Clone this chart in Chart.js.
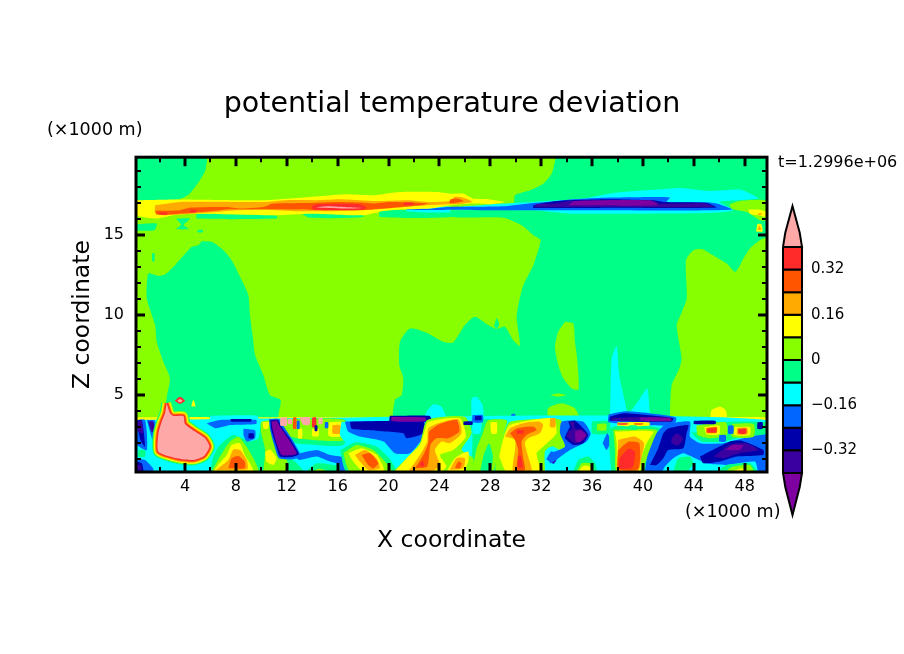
<!DOCTYPE html>
<html>
<head>
<meta charset="utf-8">
<title>potential temperature deviation</title>
<script src="https://cdn.jsdelivr.net/npm/chart.js@4"></script>
<style>
  body { margin: 0; background: #fff; }
  #wrap { position: relative; width: 904px; height: 654px; overflow: hidden; }
  #field { position: absolute; left: 0; top: 0; }
  #bar { position: absolute; left: 770px; top: 195px; }
</style>
</head>
<body>
<div id="wrap">
  <canvas id="field" width="904" height="654"></canvas>
  <canvas id="bar" width="134" height="330"></canvas>
</div>
<script>
// contour bands: lower bound of each band and its colour
var bandFloors = [0.4, 0.32, 0.24, 0.16, 0.08, 0, -0.08, -0.16, -0.24, -0.32, -0.4, -0.48];
var bandColors = ['#ffa8a8', '#ff2a2a', '#ff5500', '#ffaa00', '#ffff00', '#87ff00',
                  '#00ff87', '#00ffff', '#0066ff', '#0000aa', '#3a00a0', '#7f00a0'];

var xTicks = [4, 8, 12, 16, 20, 24, 28, 32, 36, 40, 44, 48];
var xMinor = [2, 6, 10, 14, 18, 22, 26, 30, 34, 38, 42, 46];
var zTicks = [5, 10, 15];
var zMinor = [1, 2, 3, 4, 6, 7, 8, 9, 11, 12, 13, 14, 16, 17, 18, 19];
var barTicks = [0.32, 0.16, 0, -0.16, -0.32];
var barEdges = [0.4, 0.32, 0.24, 0.16, 0.08, 0, -0.08, -0.16, -0.24, -0.32, -0.4];

// each region: band floor, then x,z pairs in units of 1000 m
var upperAir = [
  [0, 0.15,19.83, 49.75,19.83, 49.75,0.2, 0.15,0.2],
  [-0.08, 0.15,19.83, 5.65,19.83, 5.6,19, 5.17,18.4, 4.3,17.5, 3.5,17.2, 0.15,17.2],
  [-0.08, 33.16,19.83, 49.75,19.83, 49.75,3.3, 20.5,3.3, 20.5,4.69, 21.03,5, 21.16,6.04, 20.84,6.87, 20.9,8.32, 21.68,9.15, 23.12,8.84, 24.3,8.32, 25.09,8.28, 26,9.36, 26.79,9.88, 27.84,9.36, 28.49,9.11, 29.15,9.26, 29.8,8.42, 30.33,8.07, 30.07,9.77, 30.2,10.6, 30.59,11.85, 31.38,13.1, 31.95,14.66, 31.38,14.97, 30.46,15.59, 29.02,16.06, 24.83,16.1, 24.83,16.5, 29.8,16.8, 29.94,17.46, 31.12,17.77, 32.16,18.18, 32.82,18.8],
  [-0.08, 5.31,14.59, 6.1,14.55, 7.02,14.03, 7.67,13.41, 8.33,12.37, 8.98,11.23, 9.11,9.98, 9.32,8.74, 9.51,7.49, 10.16,6.24, 10.68,5, 11.52,4.69, 11.34,3.75, 11.34,3.3, 2.56,3.3, 2.56,4.79, 2.82,6.04, 2.3,7.07, 1.78,8.32, 1.65,9.36, 1,11.02, 1.12,12.58, 1.91,12.43, 2.43,12.52, 3.22,13.1, 4.53,14.24, 5.05,14.34],
  [-0.08, 1.42,13.85, 1.6,13.85, 1.6,13.35, 1.42,13.35],
  [-0.08, 28.3,9.3, 28.5,9.8, 28.7,9.4, 28.5,9.1],
  [0, 49.78,14.86, 49.2,14.66, 48.41,14.14, 47.89,13.51, 47.63,13.1, 47.24,12.68, 46.58,13.2, 45.27,13.83, 44.62,14.1, 43.96,14.03, 43.38,13.41, 43.44,11.02, 43.04,10.15, 42.65,9.36, 43.04,7.28, 42.86,6.66, 42.26,5.62, 42.13,3.96, 42.26,3.3, 49.78,3.3],
  [0, 33.87,9.57, 34.52,9.46, 34.65,8.32, 34.83,7.28, 34.95,5.35, 34.4,5.41, 33.73,6.04, 33.34,6.87, 33.08,8.01, 33.34,8.94],
  [0, 32.7,5, 33.3,5.1, 34,5, 33.3,4.9],
  [0, 32.5,3.4, 32.55,4.17, 33.6,4.48, 34.65,4.17, 35,3.6, 35,3.4],
  [0, 27.1,13.05, 27.15,13.45, 27.45,13.5, 27.5,13.1],
  [-0.16, 26.53,3.4, 26.53,4.79, 26.92,4.89, 27.39,4.37, 27.45,3.4],
  [-0.16, 22.73,3.4, 22.99,3.96, 23.52,4.42, 24.17,4.27, 24.56,3.4],
  [-0.16, 37.3,3.4, 37.41,3.75, 37.54,7.28, 37.93,8.07, 38.14,6.24, 38.59,4.58, 38.85,3.86, 39.77,4.79, 40.34,5.41, 40.55,3.75, 40.6,3.4],
  [0.08, 45.27,3.5, 45.4,4.06, 46.06,4.27, 46.5,4.06, 46.58,3.5],
  [0.08, 48.9,15.2, 49,15.65, 49.3,15.65, 49.4,15.2],
  [0.16, 49,15.3, 49.15,15.55, 49.3,15.3],
  [0.08, 4.5,4.3, 4.66,4.7, 4.82,4.3]
];

var tropopause = [
  [-0.08, 4.92,16.3, 11.2,16.2, 11.2,16, 4.92,16],
  [-0.08, 13,16.4, 18,16.4, 18,16.1, 13.8,16.05],
  [-0.08, 19.3,16.5, 24.83,16.6, 24.83,16.1, 19.3,16.1],
  [-0.08, 0.15,15.65, 1.78,15.7, 1.6,15.28, 0.15,15.28],
  [-0.08, 3.3,16, 4.4,16, 3.9,15.6, 4.3,15.35, 3.3,15.35, 3.7,15.6],
  [-0.08, 5,15.3, 5.4,15.3, 5.4,15.15, 5,15.15],
  [-0.16, 21.43,16.65, 24.83,16.75, 24.83,16.4, 21.43,16.45],
  [-0.24, 21.43,16.62, 23.26,16.62, 24.83,16.72, 24.83,16.56, 21.43,16.56],
  [-0.16, 24.83,16.69, 29.02,16.94, 31.38,17.04, 35.31,17.25, 37.67,17.6, 41.07,17.81, 42.9,17.91, 45.27,17.73, 47.62,17.81, 48.41,17.56, 49.07,17.25, 47.62,17.14, 46.05,17.04, 47.1,16.52, 45.27,16.35, 34.26,16.31, 31.38,16.52, 24.83,16.56],
  [-0.24, 24.83,16.73, 29,16.77, 31.38,16.98, 32.43,17.04, 34.26,17.19, 37.4,17.31, 41.07,17.35, 42.12,17.31, 41.86,17.04, 44.74,17.04, 45.8,16.94, 46.97,16.56, 34,16.52, 24.83,16.56],
  [-0.32, 31.38,16.83, 32.17,16.98, 34,17.14, 37.4,17.21, 40.81,17.14, 41.6,17.04, 45,16.98, 45.8,16.69, 36.62,16.67, 31.38,16.67],
  [-0.4, 33.08,16.94, 34.26,17.1, 40.81,17.1, 41.33,16.94, 44.87,16.94, 45.5,16.73, 36.62,16.73, 31.5,16.73, 31.6,16.9],
  [-0.48, 34.13,16.83, 34.65,17.1, 40.55,17.14, 41.2,16.83],
  [0, 46.8,16.9, 47.6,17.1, 49.75,17.1, 49.75,15.9, 49.2,15.9, 48.2,16.4, 47,16.6],
  [0.08, 48.3,16.56, 49.2,16.56, 49.75,16.4, 49.75,16.1, 49.07,16.21, 48.4,16.31],
  [0.16, 49.05,16.32, 49.3,16.35, 49.3,16.22, 49.05,16.22],
  [0.08, 0.15,17.15, 3.5,17.2, 10.16,17.15, 13.8,17.35, 16.7,17.52, 18.8,17.46, 20.9,17.66, 23.8,17.66, 24.83,17.56, 25.88,17.56, 26.66,17.25, 27.97,17.2, 29.15,17.04, 27.97,16.9, 26.66,16.94, 24.83,16.83, 23.26,16.63, 20.64,16.56, 19.6,16.48, 18.02,16.21, 13.83,16.31, 11.2,16.21, 4.92,16.31, 3.09,16.21, 1.78,16, 0.73,16.1, 0.15,16.21],
  [0.16, 1.65,16.83, 3.61,17.04, 10.16,17.04, 12,17.15, 14.35,17.15, 16.45,17.2, 19.07,17.1, 21.43,17.15, 23.26,17.04, 24.83,17.1, 25.2,17.35, 25.88,17.3, 26.6,17.05, 25.5,16.9, 24.83,16.9, 23,16.83, 18,16.52, 15.4,16.46, 13,16.46, 10.16,16.56, 8.06,16.52, 5.7,16.36, 2.3,16.21, 1.65,16.42],
  [0.24, 1.65,16.48, 3.61,16.52, 4.4,16.69, 7.3,16.73, 8.33,16.63, 10.16,16.73, 10.95,16.94, 13.83,16.98, 15.92,17.04, 17.76,17, 18.8,16.94, 20.1,17.04, 21.95,17, 23.13,16.94, 22.47,16.83, 18.54,16.56, 15.4,16.52, 13.83,16.56, 10.16,16.58, 7.54,16.58, 5.97,16.46, 3.09,16.28, 1.78,16.25],
  [0.24, 24.83,17.2, 25.4,17.25, 25.9,17.1, 24.83,16.95],
  [0.32, 13.96,16.77, 14.35,16.9, 17.76,16.9, 18.28,16.69, 18,16.56, 14.09,16.56],
  [0.4, 14.22,16.69, 15.14,16.77, 16.45,16.73, 17.9,16.67, 16.45,16.63],
  [0.32, 2,16.38, 2.6,16.38, 2.6,16.26, 2,16.26],
  [0.32, 4.4,16.55, 4.9,16.55, 4.9,16.4, 4.4,16.4],
  [0.32, 21.2,17, 21.9,17, 21.9,16.85, 21.2,16.85]
];

// low level layer, x below 17
var lowWest = [
  [-0.16, 0.15,3.45, 49.75,3.45, 49.75,0.2, 0.15,0.2],
  [-0.08, 5.97,0.22, 6.23,1.16, 6.75,1.88, 7.8,2.5, 9.1,2.1, 9.77,2.3, 10,3.24, 10.95,3.4, 11.2,2, 12.78,0.74, 13.3,0.22],
  [0, 10.16,0.22, 10.3,1.57, 10,2.61, 10,3.34, 11.2,3.34, 11.2,2, 12,1, 12,0.22],
  [0.08, 10.3,1.47, 10.7,1.6, 11.2,1.06, 10.95,0.64, 10.4,0.85],
  [0.08, 10.1,3.3, 10.6,3.3, 10.5,2.9, 10.2,2.9],
  [0, 6.1,0.22, 6.75,1.16, 7.54,2.1, 8.2,2.4, 8.85,1.78, 9.37,1.06, 9.77,0.22],
  [0.08, 6.23,0.22, 6.6,0.64, 7.28,1.26, 7.67,1.88, 8.33,2, 8.7,1.26, 9.1,0.74, 9.37,0.22],
  [0.16, 6.44,0.33, 7.41,0.95, 7.8,1.6, 8.33,1.57, 8.85,0.95, 8.9,0.37],
  [0.24, 7.41,0.43, 7.67,1.06, 8.2,1.2, 8.7,0.85, 8.7,0.43],
  [-0.16, 6,3.7, 9.7,3.7, 9.7,3.3, 6,3.3],
  [-0.24, 5.7,3.24, 6.75,3.44, 9.6,3.44, 9.6,3.2, 7.54,3.13, 6.4,2.93],
  [-0.32, 7.6,3.5, 9.2,3.5, 9.2,3.35, 7.6,3.35],
  [-0.24, 8.6,2.9, 9.5,2.8, 9.5,2.3, 8.85,2.1, 8.6,2.5],
  [-0.32, 9,2.61, 9.4,2.6, 9.4,2.3, 9,2.3],
  [-0.24, 0.15,3.44, 0.86,3.44, 1,1.57, 0.15,1.98],
  [-0.32, 0.2,3.4, 0.6,3.44, 0.86,1.78, 0.5,2.2],
  [-0.4, 0.2,3.34, 0.6,3.34, 0.7,2.61, 0.33,2.72],
  [-0.24, 1,3.44, 1.65,3.4, 1.83,2.1, 1.5,2.1],
  [-0.4, 1.12,3.34, 1.5,3.34, 1.65,2.61, 1.38,2.72],
  [-0.08, 0.33,1.57, 0.86,1.57, 0.86,1.16, 0.33,1.16],
  [-0.24, 0.15,1.06, 0.86,0.95, 1.5,0.43, 1.5,0.2, 0.15,0.2],
  [-0.32, 0.15,0.85, 0.6,0.74, 0.73,0.2, 0.15,0.2],
  [-0.4, 0.15,0.65, 0.55,0.6, 0.55,0.3, 0.15,0.3],
  [-0.08, 11.5,3.45, 16.6,3.45, 16.5,1.9, 14,1.9, 12.3,2.1],
  [0, 11.2,3.45, 16.5,3.45, 16.5,2.2, 14,2.2, 12.3,2.4, 11.5,3],
  [0.08, 12.9,2.9, 13.2,2.9, 13.2,2.3, 12.9,2.3],
  [0.08, 14,2.9, 14.5,2.9, 14.5,2.45, 14,2.45],
  [0.08, 15.3,3.3, 16.4,3.3, 16.4,2.45, 15.3,2.45],
  [0.16, 15.6,3.13, 16.2,3.13, 16.2,2.6, 15.6,2.6],
  [-0.24, 12.5,1.26, 14.35,1.57, 15.4,1.26, 17,1.06, 17,0.64, 15.4,0.85, 14.35,1.16, 13,0.95],
  [-0.08, 13.5,0.22, 14.35,0.74, 16,0.6, 17,0.4, 17,0.22],
  [0, 13.9,0.22, 14.6,0.4, 15.2,0.22],
  [-0.24, 10.6,3.5, 11.4,3.5, 11.8,3, 12.6,2, 13.1,1.2, 12.5,1, 11.4,1.05, 11,1.9, 10.7,2.8],
  [-0.32, 10.7,3.42, 11.3,3.45, 11.6,3, 12.4,2.1, 12.95,1.3, 12.5,1.15, 11.5,1.15, 11.1,2, 10.8,2.8],
  [-0.48, 10.8,3.34, 11.2,3.4, 11.47,3.03, 12.26,2.1, 12.78,1.37, 12.5,1.26, 11.6,1.26, 11.2,2, 10.9,2.82],
  [0.4, 11.5,3.6, 12,3.6, 12,3.1, 11.5,3.1],
  [0.4, 12.1,3.5, 12.4,3.5, 12.4,3.2, 12.1,3.2],
  [0.24, 12.5,3.6, 12.75,3.6, 12.75,2.9, 12.5,2.9],
  [0.4, 13,3.6, 13.8,3.6, 13.8,3.15, 13.3,3.15],
  [-0.24, 12.8,3.4, 13,3.4, 13,2.9, 12.8,2.9],
  [0.32, 14,3.6, 14.3,3.6, 14.3,3, 14,3],
  [-0.32, 14.2,3.1, 14.4,3.1, 14.4,2.75, 14.2,2.75],
  [0.4, 14.5,3.55, 14.8,3.55, 14.8,3.2, 14.5,3.2],
  [-0.24, 15,3.3, 15.25,3.3, 15.25,2.95, 15,2.95]
];

// the warm bubble at the left, drawn with rings round it
var bubble = [2.56,4.48, 2.82,3.86, 3.09,3.69, 3.87,3.69, 4,3.2, 4.79,2.72, 5.58,2.3, 5.92,1.78, 5.5,1.2, 4.66,0.95, 3.35,1.06, 1.91,1.47, 1.91,2.61, 2.17,3.34, 2.43,3.86];
var bubbleRings = [-0.08, 0, 0.08, 0.16, 0.24, 0.32];
var bubbleSpot = [
  [0.32, 3.2,4.65, 3.6,4.9, 4,4.65, 3.6,4.45],
  [0.4, 3.4,4.65, 3.6,4.75, 3.8,4.65, 3.6,4.55]
];

// low level layer, x from 16 to 34
var lowMiddle = [
  [-0.24, 16.18,0.22, 16.18,1.1, 16.97,0.4, 16.97,0.22],
  [-0.16, 16.3,3.34, 23,3.34, 23.25,2.82, 22.2,1.16, 21.29,0.74, 20.1,1.16, 19.6,1.68, 18,2, 16.57,2.1, 16.18,2.5],
  [-0.24, 16.57,3.34, 22.73,3.34, 23.12,2.92, 22.6,2.2, 21.68,1.37, 20.5,1.37, 19.6,2.1, 17.75,2.41, 16.83,2.72],
  [-0.32, 16.97,3.34, 22.73,3.34, 22.73,2.61, 21.42,2.3, 21.16,2.61, 18.28,2.82, 17.1,2.92],
  [-0.32, 20.1,3.7, 23.2,3.7, 23.4,3.34, 20.1,3.34],
  [-0.48, 20.24,3.63, 22.9,3.6, 22.9,3.37, 20.24,3.37],
  [-0.08, 16.2,1.55, 17.4,2.05, 19,1.8, 20,1.1, 20.6,0.22, 16.7,0.22],
  [0, 16.44,1.37, 17.49,1.88, 18.8,1.57, 19.85,0.74, 20.24,0.22, 16.97,0.22],
  [0.08, 16.84,1.37, 17.88,1.68, 19.06,1.26, 19.59,0.54, 19.59,0.22, 18,0.22, 17.23,0.85],
  [0.16, 17.36,1.26, 18.15,1.57, 19.06,1.06, 19.32,0.43, 18.4,0.33, 17.75,0.85],
  [0.24, 17.88,1.26, 18.54,1.37, 19.19,0.74, 18.8,0.43, 18.4,0.64],
  [-0.08, 26.5,0.22, 26.6,2.6, 26.4,3.4, 29.3,3.4, 28.9,2.4, 28.4,0.22],
  [-0.16, 26.55,3.4, 27.3,3.4, 27.2,2.6, 26.65,2.6],
  [0, 26.6,0.22, 26.9,1.6, 27.4,2.6, 27.8,3.4, 29.3,3.4, 28.7,2, 28.2,0.22],
  [-0.08, 27.2,0.22, 27.5,1.3, 27.9,2, 28.2,1.2, 28,0.22],
  [0.08, 28,3.3, 28.5,3.3, 28.5,2.6, 28.1,2.6],
  [0, 20.37,0.22, 21.42,1.06, 22.47,2, 23.04,3.44, 26,3.65, 26.53,2.61, 25.74,1.57, 26.66,1.06, 26.53,0.22],
  [0.08, 20.5,0.22, 21.55,1.16, 22.47,1.9, 22.86,2.82, 23.12,3.34, 25.6,3.55, 26.08,2.41, 25.09,1.57, 24.04,1.26, 24.56,0.54, 24.04,0.22],
  [0.16, 21.55,0.22, 22.47,1.26, 23.04,2.1, 23.12,2.92, 23.91,3.24, 25.48,3.49, 25.74,2.61, 24.83,1.99, 24.17,2.1, 23.65,1.57, 24.04,0.64, 23.52,0.29],
  [0.24, 22.08,0.43, 22.73,1.26, 23.12,2, 23.2,2.72, 24.04,3.2, 25.35,3.44, 25.56,2.72, 24.7,2.3, 23.78,2.3, 23.3,1.9, 23.04,0.54],
  [0.32, 22.4,0.6, 22.7,0.9, 22.8,0.55],
  [0.08, 24.56,0.22, 25.22,1.06, 26.27,1.47, 26.27,0.85, 25.87,0.22],
  [0.16, 24.83,0.33, 25.35,1.06, 26,1.06, 25.87,0.43],
  [0.24, 25.22,0.43, 25.48,0.85, 25.74,0.74, 25.6,0.43],
  [-0.32, 25.9,3.35, 26.6,3.35, 26.6,3.15, 25.9,3.15],
  [-0.24, 26.6,3.75, 27.4,3.75, 27.4,3.3, 26.6,3.3],
  [-0.32, 26.8,3.68, 27.3,3.68, 27.3,3.45, 26.8,3.45],
  [0, 28.4,0.22, 28.5,1.78, 29.15,2.82, 29.54,3.34, 32.95,3.55, 33.6,3.4, 33.6,2.6, 34,1.8, 32.5,1.3, 32.8,0.22],
  [0.08, 28.7,1.16, 29,2.2, 29.54,3.13, 32.95,3.55, 33.2,2.61, 32.16,1.78, 31.64,1.37, 31.9,0.22, 29.28,0.22],
  [0.16, 29.15,2.41, 29.54,2.92, 30.59,3.24, 31.9,3.34, 32.16,3.13, 31.9,2.61, 30.98,2.3, 30.72,2, 30.98,1.16, 31.25,0.22, 29.8,0.22, 29.94,1.57, 29.94,2.2],
  [0.24, 29.54,2.61, 30.07,2.92, 31.37,3.03, 31.64,2.82, 30.85,2.51, 30.46,2.1, 30.59,1.06, 30.72,0.33, 30.07,0.33, 30.2,1.57, 29.94,2.2],
  [0.32, 30.2,1.2, 30.4,1.2, 30.55,0.5, 30.2,0.5],
  [0.32, 30.1,2.8, 30.6,2.8, 30.6,2.6, 30.1,2.6],
  [0.16, 32.7,3.55, 33.1,3.55, 33.1,3, 32.7,3],
  [-0.16, 32.3,0.2, 32.3,1.5, 32.9,1.8, 33.6,1.4, 34,0.2],
  [-0.24, 32.4,1, 32.8,1.5, 33.3,1.2, 33,0.7],
  [-0.4, 32.7,0.9, 32.95,1.25, 33.2,1, 32.95,0.75]
];

// low level layer, x above 33
var lowEast = [
  [-0.24, 32.69,1.37, 33.87,1.78, 33.48,2.61, 33.61,3.34, 35.31,3.34, 35.89,2.61, 35.57,2.1, 34.26,1.57, 33.35,1.06, 32.69,0.74],
  [-0.32, 34.13,3.34, 34.66,3.4, 35.44,2.82, 35.7,2.51, 35.31,2, 34.52,1.89, 33.87,2.3, 34,2.61, 34.26,3.03],
  [-0.4, 34.21,3.32, 34.58,3.32, 34.66,2.92, 35.18,2.86, 35.62,2.51, 35.18,2.1, 34.66,2, 34,2.41, 34.13,2.72, 34.47,2.92],
  [-0.48, 34.66,2.72, 35.05,2.82, 35.52,2.51, 35.1,2.1, 34.73,2.1],
  [-0.08, 36,3.35, 37.4,3.35, 37.3,2.6, 36,2.6],
  [0, 36.4,3.2, 37.1,3.2, 37.1,2.8, 36.4,2.8],
  [-0.24, 36.83,1.99, 37.2,2.61, 37.46,2.1, 37.14,1.57],
  [-0.08, 34.52,0.22, 34.92,0.95, 35.7,1.16, 36.23,0.74, 36.36,0.22],
  [0, 34.79,0.22, 35.18,0.74, 35.83,0.74, 36.1,0.22],
  [0.08, 34.92,0.22, 35.31,0.58, 35.83,0.54, 35.96,0.22],
  [-0.08, 37.5,0.22, 37.5,2.95, 41.3,2.95, 41,2, 40.4,0.7, 40.2,0.22],
  [0, 37.67,2.82, 41.07,2.82, 40.81,2, 40.16,0.74, 40.03,0.22, 37.93,0.22, 37.8,1.57],
  [0.08, 37.8,2.72, 40.81,2.72, 40.29,2, 39.82,0.95, 39.76,0.22, 38.06,0.22, 37.93,2],
  [0.16, 38.06,2.2, 39.37,2.41, 40.08,2, 39.9,1.16, 39.63,0.29, 38.06,0.29],
  [0.24, 38.06,1.57, 38.85,2.09, 39.71,2, 39.63,0.39, 38.06,0.39],
  [0.32, 38.14,1.06, 38.85,1.64, 39.37,1.47, 39.29,0.74, 39.11,0.43, 38.14,0.43],
  [-0.24, 37.3,3.8, 38.45,3.98, 39.8,3.92, 42.6,3.6, 42.4,3.1, 37.3,3.3],
  [-0.32, 37.4,3.65, 38.45,3.86, 40.29,3.75, 42.38,3.55, 42.25,3.34, 37.4,3.4],
  [-0.4, 37.54,3.55, 39.8,3.6, 39.8,3.4, 37.54,3.4],
  [-0.48, 39.8,3.62, 42.12,3.58, 42.25,3.38, 39.8,3.4],
  [0.08, 38,3.3, 40.5,3.3, 40.5,3.08, 38,3.08],
  [0.32, 38,3.24, 38.8,3.24, 38.8,3.16, 38,3.16],
  [0.24, 39.3,3.24, 40,3.24, 40,3.16, 39.3,3.16],
  [-0.08, 38.9,3.1, 39.5,3.1, 39.5,2.85, 38.9,2.85],
  [-0.24, 40.16,0.22, 40.34,1.16, 41.07,2.61, 41.73,3.13, 43.69,3.34, 43.69,2.41, 44.48,2, 46.31,2, 47.89,2.3, 49.72,2.51, 49.75,0.22, 49.07,0.22, 48.8,0.85, 46.58,0.64, 45,0.74, 43.83,1.16, 43.17,1.37, 42.38,1.06, 41.73,0.54, 41.47,0.22],
  [-0.32, 40.55,0.64, 41.2,1.68, 41.6,2.61, 41.99,2.92, 43.56,3.13, 43.43,2.61, 43.17,1.68, 41.99,1.57, 41.6,1.06, 41.07,0.64],
  [-0.4, 42.25,2.3, 42.65,2.61, 43.17,2.3, 42.78,1.85, 42.25,2],
  [-0.32, 44.48,1.16, 46.84,2.1, 47.75,2.15, 49.46,1.57, 49.46,1.26, 47.36,1.16, 46.05,0.85, 44.74,0.74],
  [-0.4, 45.53,1.16, 46.84,1.89, 48.15,2, 49.07,1.57, 47.6,1.37, 46.31,1.06],
  [-0.48, 46.45,1.57, 47.1,1.89, 47.89,1.85, 47.6,1.57],
  [-0.08, 45.79,0.22, 46.58,0.64, 48.41,0.74, 48.94,0.22],
  [0, 46.45,0.22, 47.1,0.54, 48.41,0.64, 48.68,0.22],
  [0.08, 47,0.22, 47.75,0.43, 48.41,0.22],
  [-0.08, 42.38,0.22, 42.78,1.06, 43.69,1.16, 43.95,0.74, 43.43,0.22],
  [-0.08, 43.9,3.3, 49.7,3.3, 49.7,2.6, 47.9,2.4, 46.3,2.1, 44.6,2.1, 43.9,2.6],
  [-0.16, 43.9,3.3, 44.5,3.3, 44.5,2.7, 43.9,2.7],
  [0, 44.2,3.1, 46.5,3.3, 46.6,2.5, 45.3,2.3, 44.3,2.5],
  [0.08, 44.8,3, 46,3.1, 46,2.55, 45,2.55],
  [0.24, 45,2.95, 45.8,3, 45.8,2.65, 45,2.65],
  [0.32, 45.1,2.9, 45.7,2.9, 45.7,2.7, 45.1,2.7],
  [0, 47,3.2, 48.7,3.2, 48.7,2.4, 47,2.4],
  [0.08, 47.2,3, 48.4,3, 48.4,2.5, 47.2,2.5],
  [0.16, 47.4,2.95, 48.2,2.95, 48.2,2.55, 47.4,2.55],
  [0.32, 47.5,2.9, 48.1,2.9, 48.1,2.6, 47.5,2.6],
  [-0.32, 44,3.4, 45.7,3.4, 45.7,3.2, 44,3.2],
  [-0.24, 46.7,3.1, 47.1,3.1, 47.1,2.6, 46.7,2.6],
  [-0.32, 49,3.3, 49.4,3.3, 49.4,2.9, 49,2.9],
  [-0.24, 46,2.5, 46.5,2.5, 46.5,2.1, 46,2.1]
];

// thin warm line on top of the low layer
var capLine = [
  [0.08, 0.15,3.62, 6,3.62, 6,3.45, 0.15,3.45],
  [0.08, 9.7,3.62, 20.1,3.62, 20.1,3.45, 9.7,3.45],
  [0.08, 28,3.55, 37.2,3.55, 37.2,3.42, 28,3.42],
  [0.08, 42.4,3.62, 49.75,3.62, 49.75,3.42, 42.4,3.42],
  [0.16, 45.5,3.52, 46.5,3.52, 46.5,3.42, 45.5,3.42],
  [0.32, 28.15,3.5, 28.4,3.5, 28.4,3.15, 28.15,3.15],
  [-0.32, 28.45,3.3, 28.65,3.3, 28.65,3.05, 28.45,3.05],
  [0.16, 28.9,3.4, 29.15,3.4, 29.15,3.1, 28.9,3.1],
  [-0.32, 29.1,3.25, 29.35,3.25, 29.35,3, 29.1,3],
  [-0.24, 29.65,3.82, 29.95,3.82, 29.95,3.58, 29.65,3.58]
];

var colorOf = {};
bandFloors.forEach(function (f, i) { colorOf[f] = bandColors[i]; });

function toPoints(flat) {
  var pts = [];
  for (var i = 0; i < flat.length; i += 2) {
    pts.push({ x: flat[i], y: flat[i + 1] });
  }
  pts.push({ x: flat[0], y: flat[1] });
  return pts;
}

function regionSet(region) {
  return {
    data: toPoints(region.slice(1)),
    showLine: true,
    fill: 'shape',
    tension: 0.2,
    pointRadius: 0,
    borderWidth: 0,
    backgroundColor: colorOf[region[0]],
    borderColor: colorOf[region[0]]
  };
}

function fieldSets() {
  var sets = [];
  upperAir.concat(tropopause, capLine, lowWest).forEach(function (r) { sets.push(regionSet(r)); });
  // rings drawn from wide to narrow
  bubbleRings.forEach(function (band, i) {
    var ring = regionSet([band].concat(bubble));
    ring.borderWidth = 11 - i * 1.8;
    sets.push(ring);
  });
  sets.push(regionSet([0.4].concat(bubble)));
  bubbleSpot.concat(lowMiddle, lowEast).forEach(function (r) { sets.push(regionSet(r)); });
  // the library paints the first dataset last
  return sets.reverse();
}

// ticks point into the plot on all four sides, frame on top
var frameTicks = {
  id: 'frameTicks',
  afterDatasetsDraw: function (chart) {
    var c = chart.ctx, a = chart.chartArea;
    var sx = chart.scales.x, sy = chart.scales.y;
    c.save();
    c.strokeStyle = '#000';
    function tick(x0, y0, x1, y1, w) {
      c.lineWidth = w;
      c.beginPath();
      c.moveTo(x0, y0);
      c.lineTo(x1, y1);
      c.stroke();
    }
    function xMarks(list, len, w) {
      list.forEach(function (v) {
        var p = Math.round(sx.getPixelForValue(v));
        tick(p, a.bottom, p, a.bottom - len, w);
        tick(p, a.top, p, a.top + len, w);
      });
    }
    function zMarks(list, len, w) {
      list.forEach(function (v) {
        var p = Math.round(sy.getPixelForValue(v));
        tick(a.left, p, a.left + len, p, w);
        tick(a.right, p, a.right - len, p, w);
      });
    }
    xMarks(xTicks, 9, 3);
    xMarks(xMinor, 5, 2);
    zMarks(zTicks, 9, 3);
    zMarks(zMinor, 5, 2);
    c.lineWidth = 3;
    c.strokeRect(a.left, a.top, a.right - a.left, a.bottom - a.top);
    // unit notes
    c.fillStyle = '#000';
    c.font = '17.5px "DejaVu Sans"';
    c.textBaseline = 'middle';
    c.fillText('(×1000 m)', 47, 130);
    c.fillText('(×1000 m)', 685, 512);
    c.font = '16px "DejaVu Sans"';
    c.fillText('t=1.2996e+06', 778, 163);
    c.restore();
  }
};

new Chart(document.getElementById('field'), {
  type: 'scatter',
  data: { datasets: fieldSets() },
  plugins: [frameTicks],
  options: {
    responsive: false,
    animation: false,
    devicePixelRatio: 1,
    events: [],
    layout: { autoPadding: false, padding: { left: 0, right: 0, top: 0, bottom: 95 } },
    plugins: {
      legend: { display: false },
      tooltip: { enabled: false },
      title: {
        display: true,
        text: 'potential temperature deviation',
        color: '#000',
        font: { family: 'DejaVu Sans', size: 28.5, weight: 'normal' },
        padding: { top: 87, bottom: 36 }
      }
    },
    scales: {
      x: {
        min: 0.15,
        max: 49.75,
        grid: { display: false, tickLength: 5 },
        border: { display: false },
        afterBuildTicks: function (s) {
          s.ticks = xTicks.map(function (v) { return { value: v }; });
        },
        afterFit: function (s) { s.height = 87; },
        ticks: {
          color: '#000',
          padding: 0,
          maxRotation: 0,
          autoSkip: false,
          font: { family: 'DejaVu Sans', size: 16 },
          callback: function (v) { return String(v); }
        },
        title: {
          display: true,
          text: 'X coordinate',
          color: '#000',
          font: { family: 'DejaVu Sans', size: 23.5 }
        }
      },
      y: {
        min: 0.2,
        max: 19.83,
        grid: { display: false },
        border: { display: false },
        afterBuildTicks: function (s) {
          s.ticks = zTicks.map(function (v) { return { value: v }; });
        },
        afterFit: function (s) { s.width = 136; },
        ticks: {
          color: '#000',
          padding: 4,
          autoSkip: false,
          font: { family: 'DejaVu Sans', size: 16 },
          callback: function (v) { return String(v); }
        },
        title: {
          display: true,
          text: 'Z coordinate',
          color: '#000',
          padding: { top: 69, bottom: 0 },
          font: { family: 'DejaVu Sans', size: 23.5 }
        }
      },
      // empty axis, keeps the right margin so the title centres on the page
      side: {
        position: 'right',
        grid: { display: false },
        border: { display: false },
        ticks: { display: false },
        afterFit: function (s) { s.width = 137; }
      }
    }
  }
});

// colour bar: one box per band plus the two pointed ends
function barSets() {
  var sets = [];
  function shape(flat, color) {
    sets.push({
      data: toPoints(flat),
      showLine: true,
      fill: 'shape',
      pointRadius: 0,
      borderWidth: 2,
      borderColor: '#000',
      backgroundColor: color,
      clip: false
    });
  }
  for (var i = 0; i < barEdges.length - 1; i++) {
    shape([0, barEdges[i], 1, barEdges[i], 1, barEdges[i + 1], 0, barEdges[i + 1]], colorOf[barEdges[i + 1]]);
  }
  shape([0, 0.4, 0.12, 0.45, 0.5, 0.545, 0.88, 0.45, 1, 0.4], colorOf[0.4]);
  shape([0, -0.4, 0.12, -0.45, 0.5, -0.549, 0.88, -0.45, 1, -0.4], colorOf[-0.48]);
  return sets;
}

new Chart(document.getElementById('bar'), {
  type: 'scatter',
  data: { datasets: barSets() },
  options: {
    responsive: false,
    animation: false,
    devicePixelRatio: 1,
    events: [],
    layout: { autoPadding: false, padding: { left: 13, right: 0, top: 11, bottom: 10 } },
    plugins: { legend: { display: false }, tooltip: { enabled: false } },
    scales: {
      x: { display: false, min: 0, max: 1 },
      y: {
        position: 'right',
        min: -0.549,
        max: 0.545,
        grid: { display: false, drawTicks: false },
        border: { display: false },
        afterBuildTicks: function (s) {
          s.ticks = barTicks.map(function (v) { return { value: v }; });
        },
        // tick padding would otherwise eat into the bar height
        afterFit: function (s) { s.width = 102; s.paddingTop = 0; s.paddingBottom = 0; },
        ticks: {
          color: '#000',
          padding: 9,
          autoSkip: false,
          font: { family: 'DejaVu Sans', size: 15 },
          callback: function (v) { return v < 0 ? '\u2212' + (-v) : String(v); }
        }
      }
    }
  }
});
</script>
</body>
</html>
